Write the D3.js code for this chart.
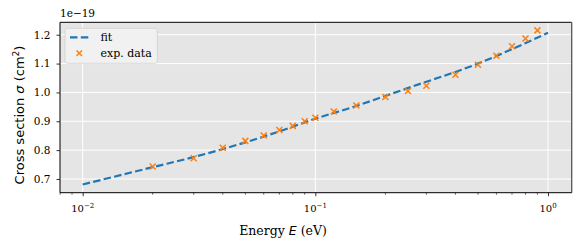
<!DOCTYPE html>
<html>
<head>
<meta charset="utf-8">
<script src="https://cdn.jsdelivr.net/npm/d3@7"></script>
<style>
body { margin: 0; background: white; }
text { font-family: "DejaVu Serif", serif; fill: #000; }
</style>
</head>
<body>
<svg id="chart"></svg>
<script>
var w = 581
var h = 246

// experimental points (energy in eV, sigma in 1e-19 cm^2)
var expE = [0.02, 0.03, 0.04, 0.05, 0.06, 0.07, 0.08, 0.09, 0.1, 0.12, 0.15, 0.2, 0.25, 0.3, 0.4, 0.5, 0.6, 0.7, 0.8, 0.9]
var expSigma = [0.743, 0.772, 0.808, 0.832, 0.851, 0.870, 0.884, 0.900, 0.912, 0.934, 0.955, 0.984, 1.005, 1.023, 1.061, 1.096, 1.127, 1.160, 1.187, 1.215]

// fit curve
var fitE = [0.01, 0.02, 0.03, 0.05, 0.07, 0.1, 0.15, 0.2, 0.3, 0.4, 0.5, 0.7, 1.0]
var fitSigma = [0.681, 0.741, 0.776, 0.827, 0.865, 0.909, 0.953, 0.988, 1.037, 1.071, 1.100, 1.150, 1.207]

var xTicks = [0.01, 0.1, 1]
var xTickLabels = ["10", "10", "10"]
var xTickExp = ["\u22122", "\u22121", "0"]
var yTicks = [0.7, 0.8, 0.9, 1.0, 1.1, 1.2]

// plot box (window.top is reserved, so use p* names)
var pL = 60, pR = 571.7, pT = 22.3, pB = 192.7

var svg = d3.select("#chart")
	.attr("width", w)
	.attr("height", h)

var x = d3.scaleLog()
	.domain([0.00799, 1.264])
	.range([pL, pR])

var y = d3.scaleLinear()
	.domain([0.6525, 1.243])
	.range([pB, pT])

// plot background
svg.append("rect")
	.attr("x", pL)
	.attr("y", pT)
	.attr("width", pR - pL)
	.attr("height", pB - pT)
	.attr("fill", "#e5e5e5")

// grid
svg.append("g").selectAll("line")
	.data(xTicks)
	.join("line")
	.attr("x1", d => x(d)).attr("x2", d => x(d))
	.attr("y1", pT).attr("y2", pB)
	.attr("stroke", "white").attr("stroke-width", 1)

svg.append("g").selectAll("line")
	.data(yTicks)
	.join("line")
	.attr("x1", pL).attr("x2", pR)
	.attr("y1", d => y(d)).attr("y2", d => y(d))
	.attr("stroke", "white").attr("stroke-width", 1)

// fit line
var line = d3.line()
	.x((d, i) => x(fitE[i]))
	.y(d => y(d))
	.curve(d3.curveMonotoneX)

svg.append("path")
	.attr("d", line(fitSigma))
	.attr("fill", "none")
	.attr("stroke", "#1f77b4")
	.attr("stroke-width", 2.2)
	.attr("stroke-dasharray", "7.5,3.3")

// exp data markers
var ms = 3
var marks = svg.append("g")
expE.forEach(function(e, i){
	var cx = x(e), cy = y(expSigma[i])
	marks.append("path")
		.attr("d", "M" + (cx - ms) + "," + (cy - ms) + "L" + (cx + ms) + "," + (cy + ms) +
			"M" + (cx - ms) + "," + (cy + ms) + "L" + (cx + ms) + "," + (cy - ms))
		.attr("stroke", "#ff7f0e")
		.attr("stroke-width", 1.5)
		.attr("fill", "none")
})

// axes
var xAxis = d3.axisBottom(x)
	.tickValues(xTicks)
	.tickSize(3.5)
	.tickFormat("")
var gx = svg.append("g")
	.attr("transform", "translate(0," + pB + ")")
	.call(xAxis)
gx.select(".domain").remove()
gx.selectAll(".tick line").attr("stroke", "#000").attr("stroke-width", 0.8)

// minor ticks
var minors = []
;[0.001, 0.01, 0.1, 1].forEach(function(dec){
	for (var k = 2; k < 10; k++) {
		var v = dec * k
		if (v > x.domain()[0] && v < x.domain()[1]) minors.push(v)
	}
})
svg.append("g").selectAll("line")
	.data(minors)
	.join("line")
	.attr("x1", d => x(d)).attr("x2", d => x(d))
	.attr("y1", pB).attr("y2", pB + 2)
	.attr("stroke", "#000").attr("stroke-width", 0.6)

// x tick labels with superscripts
xTicks.forEach(function(t, i){
	var tx = svg.append("text")
		.attr("x", x(t))
		.attr("y", pB + 19)
		.attr("text-anchor", "middle")
		.style("font-size", "10px")
	tx.append("tspan").text(xTickLabels[i])
	tx.append("tspan")
		.attr("dy", -4)
		.style("font-size", "7px")
		.text(xTickExp[i])
})

var yAxis = d3.axisLeft(y)
	.tickValues(yTicks)
	.tickSize(3.5)
	.tickPadding(6)
	.tickFormat(d3.format(".1f"))
var gy = svg.append("g")
	.attr("transform", "translate(" + pL + ",0)")
	.call(yAxis)
gy.select(".domain").remove()
gy.selectAll(".tick line").attr("stroke", "#000").attr("stroke-width", 0.8)
gy.selectAll(".tick text")
	.style("font-family", "DejaVu Serif")
	.style("font-size", "10.5px")

// frame
svg.append("line").attr("x1", pL).attr("x2", pR).attr("y1", pT).attr("y2", pT)
	.attr("stroke", "#000").attr("stroke-width", 1)
svg.append("line").attr("x1", pR).attr("x2", pR).attr("y1", pT).attr("y2", pB)
	.attr("stroke", "#555").attr("stroke-width", 1.3)
svg.append("line").attr("x1", pL).attr("x2", pL).attr("y1", pT).attr("y2", pB)
	.attr("stroke", "#000").attr("stroke-width", 1)
svg.append("line").attr("x1", pL).attr("x2", pR).attr("y1", pB).attr("y2", pB)
	.attr("stroke", "#000").attr("stroke-width", 1)

// offset text
svg.append("text")
	.attr("x", pL)
	.attr("y", 17)
	.style("font-size", "10.5px")
	.text("1e\u221219")

// axis labels
var xl = svg.append("text")
	.attr("x", 283)
	.attr("y", 235)
	.attr("text-anchor", "middle")
	.style("font-size", "12.5px")
xl.append("tspan").text("Energy ")
xl.append("tspan").style("font-family", "DejaVu Sans").style("font-style", "oblique").text("E")
xl.append("tspan").text(" (eV)")

var yl = svg.append("text")
	.attr("transform", "translate(23.5,115) rotate(-90)")
	.attr("text-anchor", "middle")
	.style("font-family", "DejaVu Sans")
	.style("font-size", "13px")
yl.append("tspan").text("Cross section ")
yl.append("tspan").style("font-style", "oblique").text("\u03c3")
yl.append("tspan").text(" (cm")
yl.append("tspan").attr("dy", -5).style("font-size", "9px").text("2")
yl.append("tspan").attr("dy", 5).text(")")

// legend
var lg = svg.append("g")
lg.append("rect")
	.attr("x", 65).attr("y", 28.3)
	.attr("width", 92.3).attr("height", 35)
	.attr("rx", 2.5)
	.attr("fill", "#f1f1f1")
	.attr("stroke", "#d0d0d0")
	.attr("stroke-width", 0.8)
lg.append("line")
	.attr("x1", 70).attr("x2", 88.5).attr("y1", 37.3).attr("y2", 37.3)
	.attr("stroke", "#1f77b4")
	.attr("stroke-width", 2.2)
	.attr("stroke-dasharray", "7.5,3.3")
lg.append("path")
	.attr("d", "M76.5,50.5L82,56M76.5,56L82,50.5")
	.attr("stroke", "#ff7f0e")
	.attr("stroke-width", 1.5)
lg.append("text").attr("x", 100.5).attr("y", 41).style("font-size", "11px").text("fit")
lg.append("text").attr("x", 100.5).attr("y", 57).style("font-size", "11px").text("exp. data")
</script>
</body>
</html>
